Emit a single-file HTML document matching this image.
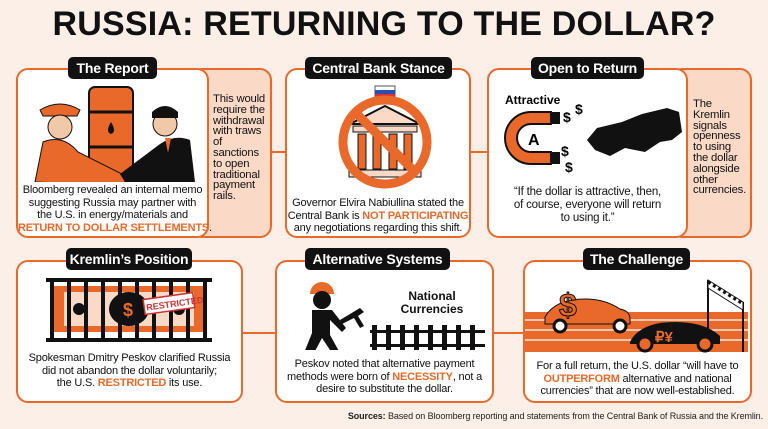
<!DOCTYPE html>
<html><head><meta charset="utf-8"><style>
*{margin:0;padding:0;box-sizing:border-box}
body{width:768px;height:429px;background:#fbefe7;font-family:"Liberation Sans",sans-serif;position:relative;overflow:hidden;color:#111}
.title{position:absolute;left:0;top:5px;width:768px;text-align:center;font-weight:bold;font-size:34px;letter-spacing:0.2px}
.box{position:absolute;border:2px solid #e8692a;border-radius:12px;background:#fff}
.side{position:absolute;border:2px solid #e8692a;border-radius:12px;background:#fad9c6}
.hdr{position:absolute;background:#111;color:#fff;font-weight:bold;font-size:14px;border-radius:5px;text-align:center;height:22px;line-height:22px;white-space:nowrap;letter-spacing:-0.2px}
.txt{position:absolute;text-align:center;font-size:11px;line-height:12.5px;letter-spacing:-0.2px;white-space:nowrap}
.stxt{position:absolute;font-size:11.3px;line-height:10.8px;text-align:left;letter-spacing:-0.2px;white-space:nowrap}
.o{color:#e8692a;font-weight:bold}
.ln{position:absolute;height:2px;background:#e8692a}
</style></head><body>
<div class="title">RUSSIA: RETURNING TO THE DOLLAR?</div>

<div class="ln" style="left:270px;top:151px;width:17px"></div>
<div class="ln" style="left:470px;top:151px;width:18px"></div>
<div class="ln" style="left:242px;top:332px;width:34px"></div>
<div class="ln" style="left:493px;top:332px;width:31px"></div>

<!-- Box 1 -->
<div class="side" style="left:190px;top:68px;width:82px;height:170px"></div>
<div class="box" style="left:16px;top:68px;width:193px;height:170px"></div>
<svg style="position:absolute;left:30px;top:82px" width="170" height="100">
 <rect x="59" y="5" width="44" height="88" rx="6" fill="#e8692a" stroke="#111" stroke-width="2"/>
 <line x1="59" y1="30" x2="103" y2="30" stroke="#111" stroke-width="3"/><line x1="59" y1="65" x2="103" y2="65" stroke="#111" stroke-width="3"/>
 <path d="M81 40 q-6 10 0 12 q6 -2 0 -12z" fill="#111"/>
 <path d="M10 28 q20 -12 40 0 l-3 6 h-34z" fill="#e8692a" stroke="#111"/>
 <circle cx="30" cy="45" r="12" fill="#f2c9a8" stroke="#111"/>
 <path d="M5 100 l8 -40 q20 -8 35 10 l50 25 l-5 8 z" fill="#e8692a" stroke="#111"/>
 <circle cx="135" cy="42" r="12" fill="#f2c9a8" stroke="#111"/>
 <path d="M122 30 q13 -12 26 0 v6 h-26z" fill="#111"/>
 <path d="M165 100 l-5 -42 q-15 -6 -30 4 l-40 30 l5 8 z" fill="#111"/>
 <path d="M135 56 l3 15 l3 -15z" fill="#e8692a"/>
</svg>
<div class="hdr" style="left:68px;top:57px;width:89px">The Report</div>
<div class="txt" style="left:18px;top:184px;width:189px">Bloomberg revealed an internal memo<br>suggesting Russia may partner with<br>the U.S. in energy/materials and<br><span class="o">RETURN TO DOLLAR SETTLEMENTS</span>.</div>
<div class="stxt" style="left:213px;top:94px;width:56px">This would<br>require the<br>withdrawal<br>with traws<br>of<br>sanctions<br>to open<br>traditional<br>payment<br>rails.</div>

<!-- Box 2 -->
<div class="box" style="left:285px;top:68px;width:186px;height:170px"></div>
<svg style="position:absolute;left:325px;top:84px" width="110" height="110">
 <rect x="50" y="2" width="20" height="12" fill="#fff" stroke="#555"/><rect x="50" y="6" width="20" height="4" fill="#2a4fb0"/><rect x="50" y="10" width="20" height="4" fill="#d33"/>
 <path d="M25 40 l35 -18 l35 18z" fill="#fad9c6" stroke="#111" stroke-width="2"/>
 <rect x="28" y="42" width="64" height="6" fill="#fad9c6" stroke="#111"/>
 <g fill="#e8692a" stroke="#111"><rect x="33" y="50" width="8" height="35"/><rect x="48" y="50" width="8" height="35"/><rect x="64" y="50" width="8" height="35"/><rect x="79" y="50" width="8" height="35"/></g>
 <rect x="24" y="86" width="72" height="7" fill="#fad9c6" stroke="#111"/>
 <circle cx="60" cy="58" r="42" fill="none" stroke="#e8692a" stroke-width="9"/>
 <line x1="30" y1="28" x2="90" y2="88" stroke="#e8692a" stroke-width="9"/>
</svg>
<div class="hdr" style="left:305px;top:57px;width:147px">Central Bank Stance</div>
<div class="txt" style="left:287px;top:197px;width:182px">Governor Elvira Nabiullina stated the<br>Central Bank is <span class="o">NOT PARTICIPATING</span><br>any negotiations regarding this shift.</div>

<!-- Box 3 -->
<div class="side" style="left:670px;top:68px;width:82px;height:170px"></div>
<div class="box" style="left:487px;top:68px;width:201px;height:170px"></div>
<svg style="position:absolute;left:495px;top:90px" width="190" height="90">
 <text x="10" y="14" font-family="Liberation Sans" font-weight="bold" font-size="12">Attractive</text>
 <path d="M56 22 h-20 a26 26 0 0 0 0 52 h20 v-12 h-20 a14 14 0 0 1 0 -28 h20z" fill="#e8692a" stroke="#111" stroke-width="2"/>
 <rect x="56" y="22" width="9" height="12" fill="#111"/><rect x="56" y="62" width="9" height="12" fill="#111"/>
 <text x="33" y="55" font-family="Liberation Sans" font-weight="bold" font-size="16">A</text>
 <g font-family="Liberation Sans" font-weight="bold" font-size="14"><text x="68" y="32">$</text><text x="80" y="24">$</text><text x="66" y="66">$</text><text x="70" y="82">$</text></g>
 <path d="M92 50 l10 -12 l25 -6 l20 -8 l25 -6 l12 4 l3 20 l-10 8 l-12 2 l-15 10 l-20 -4 l-15 8 l-15 -6 z" fill="#111"/>
</svg>
<div class="hdr" style="left:531px;top:57px;width:113px">Open to Return</div>
<div class="txt" style="left:495px;top:186px;width:185px;font-size:11.5px;line-height:13px">“If the dollar is attractive, then,<br>of course, everyone will return<br>to using it.”</div>
<div class="stxt" style="left:693px;top:99px;width:58px">The<br>Kremlin<br>signals<br>openness<br>to using<br>the dollar<br>alongside<br>other<br>currencies.</div>

<!-- Box 4 -->
<div class="box" style="left:16px;top:260px;width:227px;height:143px"></div>
<svg style="position:absolute;left:44px;top:276px" width="170" height="70">
 <rect x="10" y="10" width="150" height="46" fill="#e8692a"/>
 <rect x="20" y="16" width="130" height="34" fill="#fad9c6"/>
 <ellipse cx="85" cy="33" rx="20" ry="17" fill="#111"/>
 <text x="79" y="40" font-family="Liberation Sans" font-weight="bold" font-size="18" fill="#e8692a">$</text>
 <circle cx="35" cy="33" r="6" fill="#111"/><circle cx="135" cy="33" r="6" fill="#111"/>
 <rect x="2" y="2" width="166" height="4" fill="#111"/><rect x="2" y="62" width="166" height="4" fill="#111"/>
 <g fill="#111"><rect x="6" y="2" width="4" height="64"/><rect x="23" y="2" width="4" height="64"/><rect x="40" y="2" width="4" height="64"/><rect x="57" y="2" width="4" height="64"/><rect x="74" y="2" width="4" height="64"/><rect x="91" y="2" width="4" height="64"/><rect x="108" y="2" width="4" height="64"/><rect x="125" y="2" width="4" height="64"/><rect x="142" y="2" width="4" height="64"/><rect x="159" y="2" width="4" height="64"/></g>
 <g transform="rotate(-8 125 28)"><rect x="100" y="20" width="50" height="15" fill="#fff" stroke="#c33" stroke-width="1.5"/><text x="102" y="31.5" font-family="Liberation Sans" font-weight="bold" font-size="9" fill="#c33">RESTRICTED</text></g>
</svg>
<div class="hdr" style="left:66px;top:248px;width:126px">Kremlin’s Position</div>
<div class="txt" style="left:18px;top:352px;width:223px">Spokesman Dmitry Peskov clarified Russia<br>did not abandon the dollar voluntarily;<br>the U.S. <span class="o">RESTRICTED</span> its use.</div>

<!-- Box 5 -->
<div class="box" style="left:275px;top:260px;width:219px;height:143px"></div>
<svg style="position:absolute;left:290px;top:280px" width="200" height="70">
 <path d="M20 14 a12 12 0 0 1 24 0z" fill="#e8692a"/>
 <circle cx="32" cy="20" r="9" fill="#111"/>
 <path d="M22 30 l20 0 l14 18 l-4 4 l-12 -12 l0 15 l10 18 l-8 0 l-10 -15 l-8 15 l-10 0 l8 -20z" fill="#111"/>
 <path d="M50 40 l20 -12 l4 4 l-6 4 l6 10 l-4 2 l-6 -10 l-12 6z" fill="#111"/>
 <rect x="80" y="50" width="115" height="3" fill="#111"/><rect x="80" y="64" width="115" height="3" fill="#111"/>
 <g fill="#111"><rect x="82" y="45" width="5" height="26"/><rect x="96" y="45" width="5" height="26"/><rect x="110" y="45" width="5" height="26"/><rect x="124" y="45" width="5" height="26"/><rect x="138" y="45" width="5" height="26"/><rect x="152" y="45" width="5" height="26"/><rect x="166" y="45" width="5" height="26"/><rect x="180" y="45" width="5" height="26"/></g>
</svg>
<div style="position:absolute;left:392px;top:290px;width:80px;text-align:center;font-weight:bold;font-size:12px;line-height:13px">National Currencies</div>
<div class="hdr" style="left:305px;top:248px;width:145px">Alternative Systems</div>
<div class="txt" style="left:277px;top:358px;width:215px">Peskov noted that alternative payment<br>methods were born of <span class="o">NECESSITY</span>, not a<br>desire to substitute the dollar.</div>

<!-- Box 6 -->
<div class="box" style="left:523px;top:260px;width:229px;height:143px"></div>
<svg style="position:absolute;left:525px;top:272px" width="225" height="85">
 <rect x="0" y="40" width="223" height="40" fill="#e8692a"/>
 <g stroke="#fff" stroke-width="1.2"><line x1="0" y1="48" x2="223" y2="48"/><line x1="0" y1="58" x2="223" y2="58"/><line x1="0" y1="68" x2="223" y2="68"/></g>
 <line x1="183" y1="8" x2="183" y2="80" stroke="#111" stroke-width="2"/><line x1="218" y1="30" x2="218" y2="80" stroke="#111" stroke-width="2"/>
 <path d="M183 8 l35 22 v8 l-35 -22z" fill="#fff" stroke="#111"/>
 <path d="M183 10 l35 22" stroke="#111" stroke-width="3" stroke-dasharray="3 3"/>
 <path d="M20 45 q10 -18 40 -18 q20 0 35 10 q10 2 10 10 v5 h-85z" fill="#e8692a" stroke="#111"/>
 <text x="34" y="44" font-family="Liberation Sans" font-weight="bold" font-size="32" fill="#e8692a" stroke="#111" stroke-width="1">$</text>
 <circle cx="35" cy="54" r="6" fill="#fff" stroke="#111" stroke-width="3"/><circle cx="95" cy="54" r="6" fill="#fff" stroke="#111" stroke-width="3"/>
 <path d="M105 70 q10 -20 45 -20 q30 0 45 14 v8 h-90z" fill="#111"/>
 <text x="130" y="70" font-family="Liberation Sans" font-weight="bold" font-size="15" fill="#e8692a">₽¥</text>
 <circle cx="120" cy="72" r="7" fill="#e8692a" stroke="#111" stroke-width="3"/><circle cx="180" cy="72" r="7" fill="#e8692a" stroke="#111" stroke-width="3"/>
</svg>
<div class="hdr" style="left:583px;top:248px;width:107px">The Challenge</div>
<div class="txt" style="left:525px;top:360px;width:225px">For a full return, the U.S. dollar “will have to<br><span class="o">OUTPERFORM</span> alternative and national<br>currencies” that are now well-established.</div>

<div style="position:absolute;right:5px;top:411px;font-size:9px;color:#222;letter-spacing:-0.1px"><b>Sources:</b> Based on Bloomberg reporting and statements from the Central Bank of Russia and the Kremlin.</div>
</body></html>
